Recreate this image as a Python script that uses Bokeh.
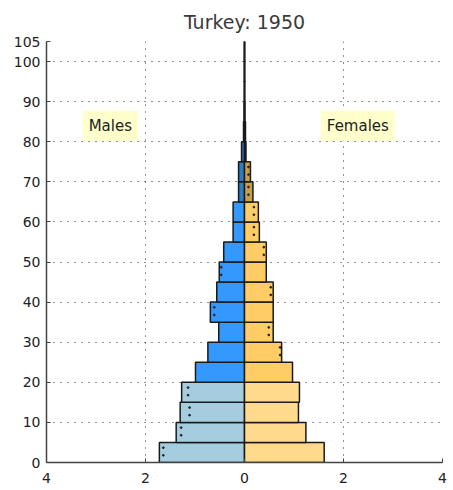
import numpy as np
from bokeh.plotting import figure
from bokeh.models import ColumnDataSource, FixedTicker, Label, Range1d
from bokeh.embed import file_html
from bokeh.resources import INLINE

# Age groups (lower bound of each 5-year band)
ages = [0, 5, 10, 15, 20, 25, 30, 35, 40, 45, 50, 55, 60, 65, 70, 75, 80, 85, 90, 95, 100]
# Population share (%) by age band, 1950
males = [1.72, 1.38, 1.30, 1.27, 0.99, 0.74, 0.52, 0.69, 0.56, 0.51, 0.42,
         0.23, 0.23, 0.12, 0.12, 0.06, 0.02, 0.01, 0.005, 0.005, 0.005]
females = [1.61, 1.24, 1.09, 1.11, 0.97, 0.75, 0.58, 0.58, 0.58, 0.44, 0.44,
           0.30, 0.28, 0.17, 0.12, 0.03, 0.02, 0.01, 0.005, 0.005, 0.005]
# Comparison markers (dotted) visible inside bars
cmp_males = [1.64, 1.28, 1.11, 1.14, None, None, None, 0.61, None, 0.47, None,
             None, None, None, None, None, None, None, None, None, None]
cmp_females = [None, None, None, None, None, 0.72, 0.49, None, 0.53, None, 0.39,
               0.19, 0.19, 0.08, 0.08, None, None, None, None, None, None]

x_ticks = [-4, -2, 0, 2, 4]
x_tick_labels = ["4", "2", "0", "2", "4"]
y_ticks = [0, 10, 20, 30, 40, 50, 60, 70, 80, 90, 100, 105]

male_colors = {"young": "#A6CCDF", "adult": "#3399FF", "old": "#2B7BC6"}
female_colors = {"young": "#FFD98C", "adult": "#FFCC66", "old": "#C8A04C"}

def group(a):
    if a < 20:
        return "young"
    if a < 65:
        return "adult"
    return "old"

band = 5
yc = [a + band / 2 for a in ages]
m_src = ColumnDataSource(dict(
    y=yc, left=[-v for v in males], right=[0] * len(males),
    color=[male_colors[group(a)] for a in ages]))
f_src = ColumnDataSource(dict(
    y=yc, left=[0] * len(females), right=females,
    color=[female_colors[group(a)] for a in ages]))

p = figure(width=453, height=490, output_backend="svg", toolbar_location=None,
           x_range=Range1d(-4, 4), y_range=Range1d(0, 105),
           min_border_left=46, min_border_right=11, min_border_top=40,
           min_border_bottom=28, title="Turkey: 1950")
p.outline_line_color = None
p.background_fill_color = "white"

p.title.align = "center"
p.title.text_font = "DejaVu Sans"
p.title.text_font_size = "19px"
p.title.text_font_style = "normal"
p.title.text_color = "#3a3a3a"
p.title.standoff = 17

for r in (p.xgrid, p.ygrid):
    r.grid_line_color = "#222222"
    r.grid_line_dash = "1 6"
    r.grid_line_width = 1

p.xaxis.ticker = FixedTicker(ticks=x_ticks)
p.xaxis.major_label_overrides = dict(zip(x_ticks, x_tick_labels))
p.yaxis.ticker = FixedTicker(ticks=y_ticks)
p.xgrid.ticker = FixedTicker(ticks=x_ticks)
p.ygrid.ticker = FixedTicker(ticks=y_ticks)

for ax in (p.xaxis[0], p.yaxis[0]):
    ax.axis_line_color = "#444444"
    ax.axis_line_width = 1.5
    ax.major_tick_in = 4
    ax.major_tick_out = 0
    ax.major_tick_line_color = "#444444"
    ax.minor_tick_line_color = None
    ax.major_label_text_font = "DejaVu Sans"
    ax.major_label_text_font_size = "14px"
    ax.major_label_text_color = "#222222"
p.yaxis.major_label_standoff = 6
p.xaxis.major_label_standoff = 10

p.hbar(y="y", left="left", right="right", height=band, source=m_src,
       fill_color="color", line_color="#1a1a1a", line_width=1.5)
p.hbar(y="y", left="left", right="right", height=band, source=f_src,
       fill_color="color", line_color="#1a1a1a", line_width=1.5)

# comparison dots
dx, dy = [], []
for a, v in zip(ages, cmp_males):
    if v is not None:
        dx += [-v, -v]
        dy += [a + 1.8, a + 3.7]
for a, v in zip(ages, cmp_females):
    if v is not None:
        dx += [v, v]
        dy += [a + 1.8, a + 3.7]
p.scatter(dx, dy, size=1.8, color="#222222", marker="circle")

for txt, xv in (("Males", -2.71), ("Females", 2.29)):
    p.add_layout(Label(x=xv, y=84, text=txt, text_align="center",
                       text_baseline="middle", text_font="DejaVu Sans",
                       text_font_size="15px", text_color="#222222",
                       background_fill_color="#FFFFCC", padding=6))

open("out.html", "w").write(file_html(p, INLINE))
